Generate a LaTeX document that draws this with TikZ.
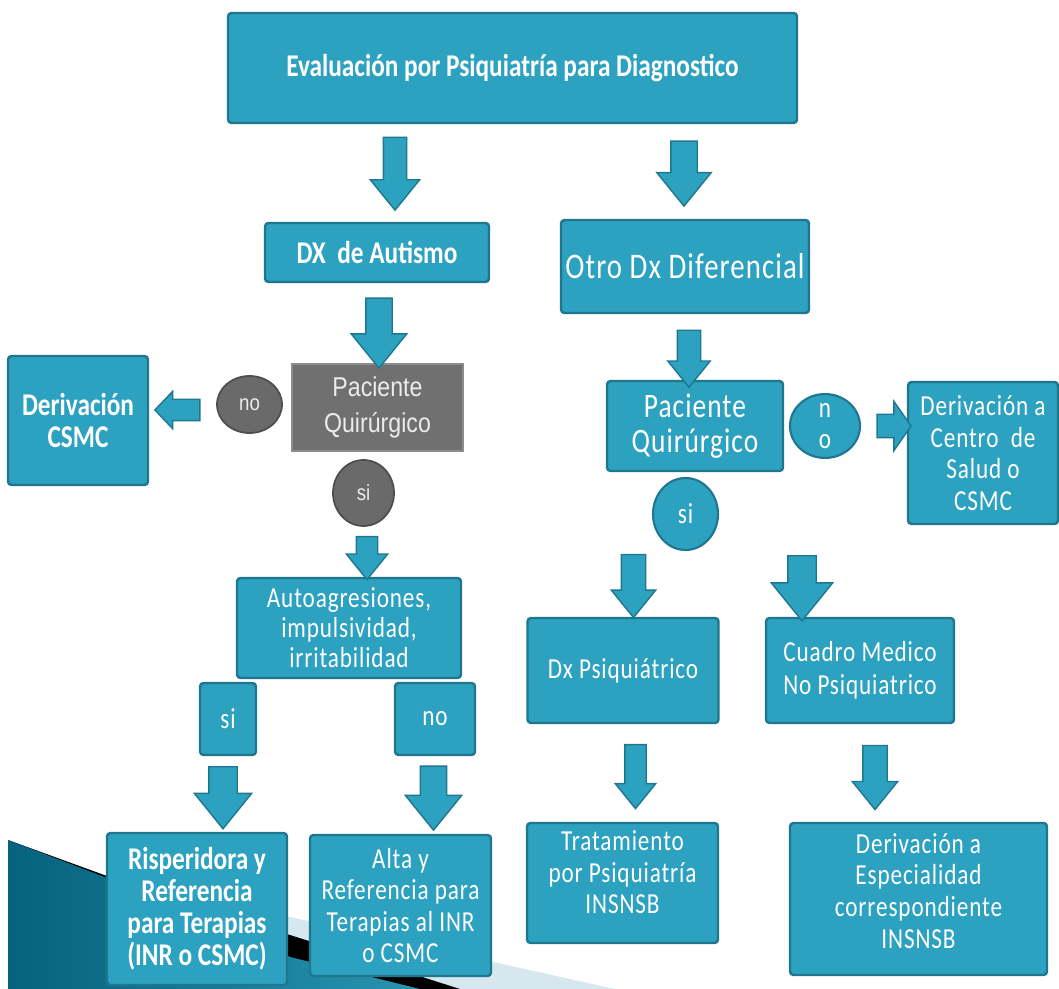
\documentclass[tikz,border=0pt]{standalone}
\usepackage{fontspec}
\setmainfont{Carlito}[FakeStretch=0.8, LetterSpace=3]
\newfontfamily\headfont{Carlito}[FakeStretch=0.8]
\newfontfamily\grayfont{Liberation Sans}[FakeStretch=0.85]
\usetikzlibrary{shapes.geometric, shapes.arrows}
\definecolor{boxcolor}  {RGB}{44, 162, 192}
\definecolor{edgecolor} {RGB}{30, 118, 143}
\definecolor{graycolor} {RGB}{112, 112, 112}
\definecolor{grayedge}  {RGB}{140, 140, 140}
\definecolor{ovalgray}  {RGB}{106, 106, 106}
\definecolor{ovaledge}  {RGB}{78, 78, 78}
\definecolor{darkteal}  {RGB}{6, 98, 126}
\definecolor{lightteal} {RGB}{40, 148, 176}
\definecolor{paleband}  {RGB}{214, 232, 238}
\tikzset{
	tealbox/.style={
		rectangle, rounded corners=2pt,
		fill=boxcolor, draw=edgecolor, line width=1.4pt,
		align=center, text=white, inner sep=2pt,
		font=\fontsize{16.5}{18}\selectfont
	},
	headbox/.style={
		tealbox, font=\headfont\bfseries\fontsize{18}{18.2}\selectfont
	},
	graybox/.style={
		rectangle, fill=graycolor, draw=grayedge, line width=0.8pt,
		align=center, text=gray!15,
		font=\grayfont\fontsize{15.5}{21}\selectfont
	},
	grayoval/.style={
		ellipse, fill=ovalgray, draw=ovaledge, line width=1pt,
		text=gray!15, inner sep=0pt,
		font=\grayfont\fontsize{12.5}{14}\selectfont
	},
	tealoval/.style={
		ellipse, fill=boxcolor, draw=edgecolor, line width=1.2pt,
		text=white, inner sep=0pt, align=center,
		font=\fontsize{16.5}{17.6}\selectfont
	},
	blockarrow/.style n args={3}{
		single arrow, fill=boxcolor, draw=edgecolor, line width=0.8pt,
		minimum height=#1cm, minimum width=0pt,
		inner xsep=0pt, inner ysep=#2cm,
		single arrow head extend=#3cm, single arrow tip angle=78
	},
	downarrow/.style n args={3}{blockarrow={#1}{#2}{#3}, rotate=-90}
}

\begin{document}
\begin{tikzpicture}
	\useasboundingbox (0,0) rectangle (21.18,-19.78);
	
	%% corner decoration
	\fill[paleband] (3.0,-17.74) -- (5.80,-18.34) -- (12.30,-19.78) -- (3.0,-19.78) -- cycle;
	\fill[black] (0.16,-16.80) -- (2.14,-17.52) -- (5.80,-18.70) -- (9.20,-19.78) -- (0.16,-19.78) -- cycle;
	\shade[left color=darkteal, right color=lightteal]
	(0.16,-16.80) -- (2.14,-17.56) -- (5.80,-19.14) -- (8.40,-19.78) -- (0.16,-19.78) -- cycle;
	
	%% top
	\node[headbox, minimum width=11.38cm, minimum height=2.2cm] (evalpsq) at (10.25,-1.36)
	{Evaluación por Psiquiatría para Diagnostico};
	
	%% left branch
	\node[headbox, minimum width=4.48cm, minimum height=1.18cm] (dxaut) at (7.54,-5.05) {DX\ \ de Autismo};
	\node[graybox, minimum width=3.42cm, minimum height=1.74cm] (pacq) at (7.55,-8.15) {Paciente\\Quirúrgico};
	\node[grayoval, minimum width=1.30cm, minimum height=1.14cm] (nogray) at (4.99,-8.09) {no};
	\node[headbox, minimum width=2.80cm, minimum height=2.58cm] (derivcsmc) at (1.56,-8.41) {Derivación\\CSMC};
	\node[grayoval, minimum width=1.22cm, minimum height=1.32cm] (sigray) at (7.27,-9.86) {si};
	\node[tealbox, minimum width=4.48cm, minimum height=2.0cm,
	font=\fontsize{16.5}{17}\selectfont] (autoag) at (6.98,-12.56)
	{Autoagresiones,\\impulsividad,\\irritabilidad};
	\node[tealbox, minimum width=1.12cm, minimum height=1.44cm] (sibox) at (4.56,-14.38) {si};
	\node[tealbox, minimum width=1.60cm, minimum height=1.44cm] (nobox) at (8.70,-14.38) {no};
	\node[headbox, minimum width=3.60cm, minimum height=3.04cm] (risper) at (3.94,-18.18)
	{Risperidora y\\Referencia\\para Terapias\\(INR o CSMC)};
	\node[tealbox, minimum width=3.62cm, minimum height=2.82cm] (alta) at (8.01,-18.11)
	{Alta y\\Referencia para\\Terapias al INR\\o CSMC};
	
	%% right branch
	\node[tealbox, minimum width=4.96cm, minimum height=1.86cm,
	font=\fontsize{20.5}{22}\selectfont] (otrodx) at (13.70,-5.33) {Otro Dx Diferencial};
	\node[tealbox, minimum width=3.52cm, minimum height=1.80cm,
	font=\fontsize{19.5}{20}\selectfont] (pacqr) at (13.90,-8.52) {Paciente\\Quirúrgico};
	\node[tealoval, minimum width=1.40cm, minimum height=1.24cm] (noteal) at (16.50,-8.52) {n\\o};
	\node[tealbox, minimum width=3.0cm, minimum height=2.84cm] (derivcentro) at (19.66,-9.06)
	{Derivación a\\Centro\ \ de\\Salud o\\CSMC};
	\node[tealoval, minimum width=1.30cm, minimum height=1.44cm] (siteal) at (13.71,-10.28) {si};
	\node[tealbox, minimum width=3.82cm, minimum height=2.10cm] (dxpsiq) at (12.46,-13.41) {Dx Psiquiátrico};
	\node[tealbox, minimum width=3.76cm, minimum height=2.10cm,
	font=\fontsize{16.5}{18.8}\selectfont] (cuadro) at (17.20,-13.41) {Cuadro Medico\\No Psiquiatrico};
	\node[tealbox, minimum width=3.82cm, minimum height=2.40cm] (tratam) at (12.45,-17.66)
	{Tratamiento\\por Psiquiatría\\INSNSB\\[-0.2cm]};
	\node[tealbox, minimum width=5.14cm, minimum height=3.04cm] (derivesp) at (18.37,-17.98)
	{Derivación a\\Especialidad\\correspondiente\\INSNSB\\[-0.3cm]};
	
	%% block arrows
	\node[downarrow={1.46}{0.22}{0.26}] (arr1)  at (7.90,-3.33)  {};
	\node[downarrow={1.30}{0.25}{0.28}] (arr2)  at (13.68,-3.31) {};
	\node[downarrow={1.40}{0.25}{0.29}] (arr3)  at (7.58,-6.50)  {};
	\node[blockarrow={0.90}{0.20}{0.16}, rotate=180,
	single arrow tip angle=93] (arr4)  at (3.65,-8.20)  {};
	\node[downarrow={0.86}{0.20}{0.20}] (arr5)  at (7.34,-11.03) {};
	\node[downarrow={1.24}{0.27}{0.29}] (arr6)  at (4.46,-15.78) {};
	\node[downarrow={1.28}{0.25}{0.30}] (arr7)  at (8.67,-15.80) {};
	\node[downarrow={1.14}{0.22}{0.19}] (arr8)  at (13.78,-7.03) {};
	\node[blockarrow={0.68}{0.22}{0.26},
	single arrow tip angle=110] (arr9)  at (17.80,-8.52) {};
	\node[downarrow={1.26}{0.23}{0.20}] (arr10) at (12.67,-11.57) {};
	\node[downarrow={1.30}{0.27}{0.33}] (arr11) at (16.04,-11.59) {};
	\node[downarrow={1.28}{0.20}{0.19}] (arr12) at (12.71,-15.40) {};
	\node[downarrow={1.28}{0.23}{0.21}] (arr13) at (17.50,-15.40) {};
\end{tikzpicture}
\end{document}
